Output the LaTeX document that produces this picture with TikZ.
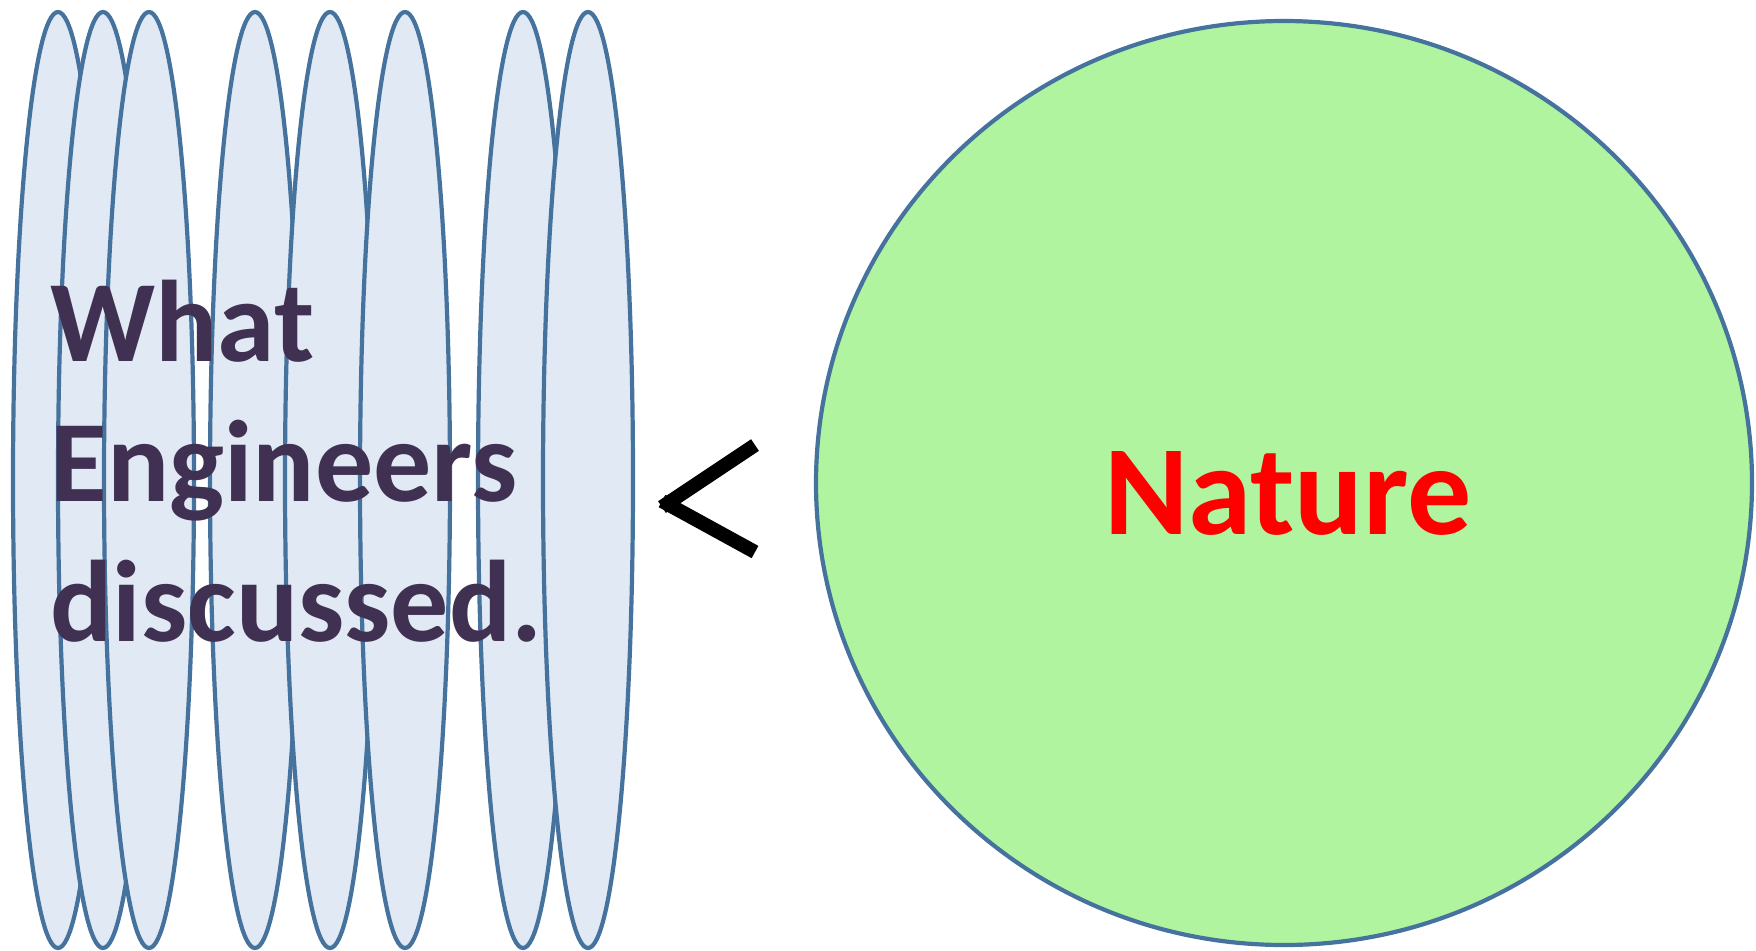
\documentclass[tikz,border=0pt]{standalone}
\usepackage{fontspec}
\setmainfont{Carlito}
\definecolor{leafline}{RGB}{70,114,158}
\definecolor{leaffill}{RGB}{225,234,244}
\definecolor{naturefill}{RGB}{176,244,160}
\definecolor{talkcolor}{RGB}{64,49,82}
\definecolor{naturered}{RGB}{255,0,0}

\def\leaf#1{\draw[leaf] (#1,480) ellipse (45 and 468)}

\begin{document}
\begin{tikzpicture}[x=0.5pt,y=-0.5pt,
    leaf/.style={draw=leafline,fill=leaffill,line width=2.1pt},
    talk/.style={text=talkcolor,font=\fontsize{58}{70}\selectfont\bfseries,inner sep=0,anchor=base west}]
  \useasboundingbox (0,0) rectangle (1756,950);
  % the thin ellipses, left to right
  \foreach \cx in {58,103,149,255,330,405,523,588} {\leaf{\cx};}
  % the big circle
  \draw[draw=leafline,fill=naturefill,line width=2.1pt] (1284,483) ellipse (468 and 462);
  % the text
  \node[talk] (what) at (50,361) {What};
  \node[talk] (engineers) at (50,501) {Engineers};
  \node[talk] (discussed) at (50,641) {discussed.};
  \node[text=naturered,font=\fontsize{64}{70}\selectfont\bfseries,inner sep=0,anchor=base] (nature) at (1288,534) {Nature};
  % less-than sign
  \draw[line width=7pt] (755,445) -- (662,507);
  \draw[line width=7pt] (662,501) -- (755,552);
\end{tikzpicture}
\end{document}
